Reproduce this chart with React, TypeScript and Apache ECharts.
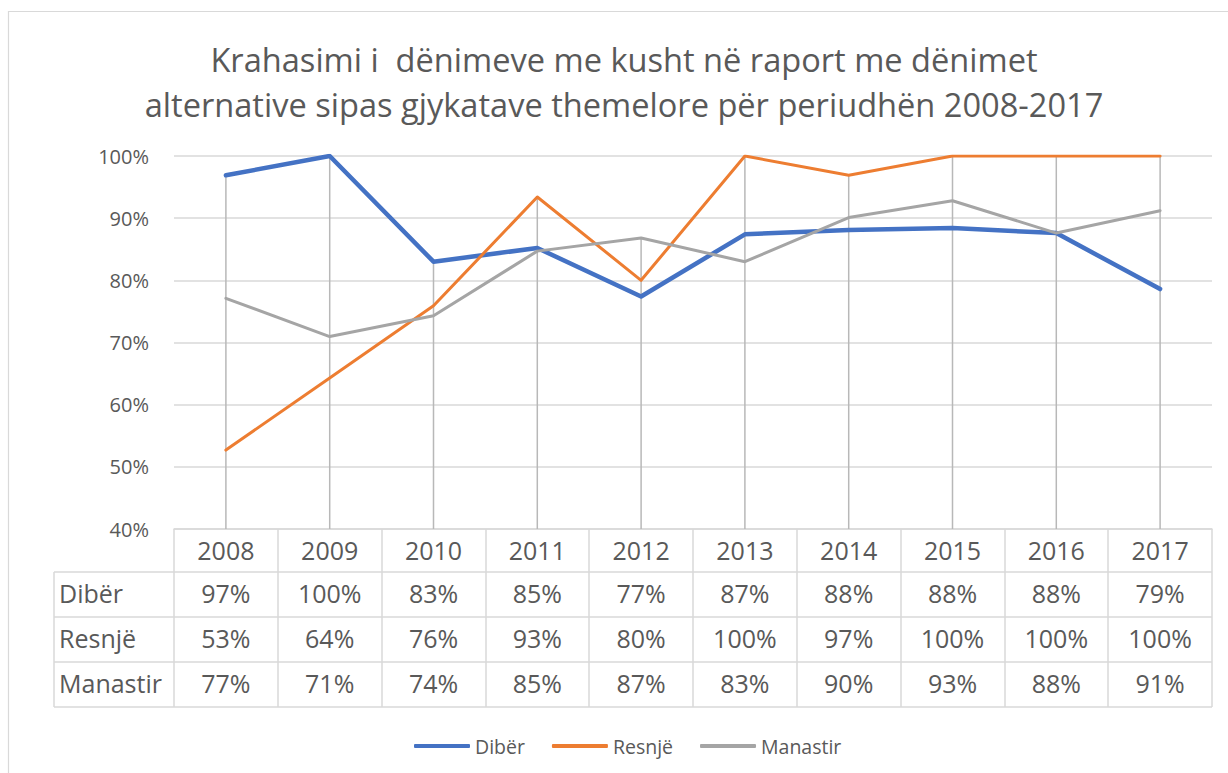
import React, { useEffect, useRef } from "react";
import * as echarts from "echarts";

const years = ["2008", "2009", "2010", "2011", "2012", "2013", "2014", "2015", "2016", "2017"];
const seriesNames = ["Dibër", "Resnjë", "Manastir"];
const diber = [96.9, 100, 83.0, 85.2, 77.4, 87.4, 88.1, 88.4, 87.6, 78.6];
const resnje = [52.7, 64.3, 75.9, 93.4, 80.0, 100, 96.9, 100, 100, 100];
const manastir = [77.1, 70.95, 74.3, 84.7, 86.8, 83.0, 90.1, 92.8, 87.6, 91.2];
const yMin = 40;
const yMax = 100;
const yStep = 10;
const titleLines = [
  "Krahasimi i  dënimeve me kusht në raport me dënimet",
  "alternative sipas gjykatave themelore për periudhën 2008-2017",
];

const colors = ["#4472C4", "#ED7D31", "#A5A5A5"];
const lineWidths = [4.5, 3, 3];
const FONT = "'Open Sans', sans-serif";
const TEXT = "#595959";
const GRIDC = "#D9D9D9";

export default function App() {
  const ref = useRef<HTMLDivElement>(null);
  useEffect(() => {
    if (!ref.current) return;
    const chart = echarts.init(ref.current, undefined, { renderer: "svg" });
    const allSeries = [diber, resnje, manastir];
    const gridLeft = 174;
    const gridRight = 16;
    const gridTop = 156;
    const gridBottom = 773 - 529;
    chart.setOption({
      animation: false,
      backgroundColor: "#fff",
      textStyle: { fontFamily: FONT },
      title: {
        text: titleLines.join("\n"),
        left: 619,
        top: 32,
        textAlign: "center",
        textStyle: {
          fontFamily: FONT,
          fontSize: 32.6,
          fontWeight: "normal",
          color: TEXT,
          lineHeight: 45,
        },
      },
      legend: {
        data: seriesNames,
        left: 409,
        top: 731,
        icon: "roundRect",
        itemWidth: 56,
        itemHeight: 4,
        itemGap: 27,
        textStyle: { fontFamily: FONT, fontSize: 19.5, color: TEXT },
      },
      grid: { left: gridLeft, right: gridRight, top: gridTop, bottom: gridBottom, containLabel: false },
      xAxis: {
        type: "category",
        data: years,
        boundaryGap: true,
        axisLine: { show: true, lineStyle: { color: GRIDC, width: 1.5 } },
        axisTick: { show: true, interval: 0, length: 178, lineStyle: { color: GRIDC, width: 1.5 } },
        axisLabel: { interval: 0, margin: 8, fontFamily: FONT, fontSize: 25, color: TEXT },
        splitLine: { show: false },
      },
      yAxis: {
        type: "value",
        min: yMin,
        max: yMax,
        interval: yStep,
        axisLine: { show: false },
        axisTick: { show: false },
        axisLabel: { formatter: "{value}%", margin: 25, fontFamily: FONT, fontSize: 20, color: TEXT },
        splitLine: { show: true, lineStyle: { color: GRIDC, width: 1.5 } },
      },
      series: [
        {
          type: "custom",
          silent: true,
          z: 1,
          data: years.map((_, i) => [i, Math.max(diber[i], resnje[i], manastir[i])]),
          renderItem: (params: any, api: any) => {
            const top = api.coord([api.value(0), api.value(1)]);
            const bottom = api.coord([api.value(0), yMin]);
            return {
              type: "line",
              shape: { x1: top[0], y1: top[1], x2: bottom[0], y2: bottom[1] },
              style: { stroke: "#B8B8B8", lineWidth: 1.5 },
            };
          },
        },
        ...seriesNames.map((name, k) => ({
          name,
          type: "line",
          data: allSeries[k],
          symbol: "none",
          z: 3 + k,
          color: colors[k],
          lineStyle: { color: colors[k], width: lineWidths[k], cap: "round", join: "round" },
        })),
      ],
    });

    const xs = years.map((_, i) => chart.convertToPixel({ xAxisIndex: 0 }, i) as number);
    const xRight = 1228 - gridRight;
    const tableLeft = 54;
    const rowLines = [572, 617, 662, 707];
    const rowCenters = [593, 638, 683];
    const graphic: any[] = [
      {
        type: "rect",
        shape: { x: 8.5, y: 11.5, width: 1240, height: 780 },
        style: { fill: "none", stroke: GRIDC, lineWidth: 1.2 },
        silent: true,
      },
      ...rowLines.map((y) => ({
        type: "line",
        shape: { x1: tableLeft, y1: y, x2: xRight, y2: y },
        style: { stroke: GRIDC, lineWidth: 1.5 },
        silent: true,
      })),
      {
        type: "line",
        shape: { x1: tableLeft, y1: rowLines[0], x2: tableLeft, y2: rowLines[3] },
        style: { stroke: GRIDC, lineWidth: 1.5 },
        silent: true,
      },
    ];
    seriesNames.forEach((name, r) => {
      graphic.push({
        type: "text",
        x: 59,
        y: rowCenters[r],
        style: {
          text: name,
          fill: TEXT,
          fontFamily: FONT,
          fontSize: 25,
          align: "left",
          verticalAlign: "middle",
          textAlign: "left",
          textVerticalAlign: "middle",
        },
        silent: true,
      });
      allSeries[r].forEach((v, i) => {
        graphic.push({
          type: "text",
          x: xs[i],
          y: rowCenters[r],
          style: {
            text: Math.round(v) + "%",
            fill: TEXT,
            fontFamily: FONT,
            fontSize: 25,
            align: "center",
            verticalAlign: "middle",
            textAlign: "center",
            textVerticalAlign: "middle",
          },
          silent: true,
        });
      });
    });
    chart.setOption({ graphic });

    return () => chart.dispose();
  }, []);
  return (
    <div
      ref={ref}
      style={{ position: "absolute", left: 0, top: 0, width: 1228, height: 773 }}
    />
  );
}
